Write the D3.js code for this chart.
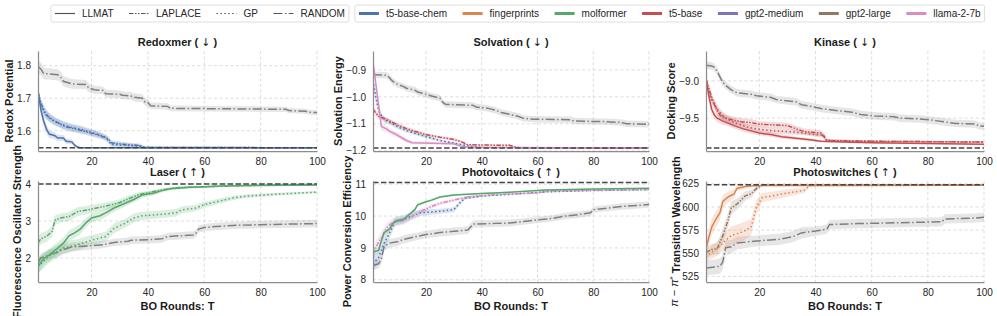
<!DOCTYPE html>
<html>
<head>
<meta charset="utf-8">
<script src="https://cdn.jsdelivr.net/npm/d3@7"></script>
<style>
body { margin: 0; background: #fff; }
svg { font-family: "Liberation Sans", Arial, Helvetica, sans-serif; }
.tick text { font-size: 10px; fill: #262626; }
.title, .xlabel, .ylabel { font-size: 11px; font-weight: bold; fill: #1a1a1a; }
.arrow { font-family: "DejaVu Sans", sans-serif; font-weight: normal; font-size: 11px; }
.leg { font-size: 10px; fill: #262626; }
</style>
</head>
<body>
<script>

// ---- data: [T, mean, half-width of band] ----
var T_TICKS = [20, 40, 60, 80, 100];

var redoxDomain = [1.538, 1.845], redoxTicks = [1.6, 1.7, 1.8], redoxOpt = 1.548;
var redoxRandom = [[1,1.797,.02],[2,1.79,.02],[3,1.776,.018],[8,1.772,.017],[9,1.766,.016],[10,1.752,.016],[13,1.744,.015],[18,1.742,.014],[19,1.732,.013],[21,1.726,.012],[24,1.724,.012],[25,1.714,.012],[30,1.712,.012],[31,1.709,.012],[34,1.707,.012],[35,1.703,.012],[38,1.7,.012],[39,1.688,.011],[40,1.686,.011],[41,1.677,.01],[47,1.675,.01],[48,1.669,.009],[89,1.666,.008],[90,1.662,.008],[96,1.66,.008],[97,1.657,.008],[100,1.656,.008]];
var redoxLLMAT = [[1,1.722,.012],[2,1.665,.015],[3,1.63,.015],[4,1.605,.014],[5,1.59,.012],[7,1.585,.01],[8,1.578,.01],[10,1.578,.009],[11,1.568,.008],[13,1.566,.007],[14,1.556,.006],[15,1.55,.004],[16,1.548,.002],[100,1.548,.001]];
var redoxLaplace = [[1,1.72,.012],[2,1.685,.015],[3,1.665,.015],[4,1.648,.014],[6,1.635,.013],[8,1.625,.012],[10,1.615,.012],[13,1.608,.011],[16,1.602,.011],[19,1.595,.01],[22,1.588,.01],[24,1.582,.009],[26,1.575,.009],[27,1.563,.008],[32,1.558,.007],[37,1.555,.006],[39,1.549,.003],[100,1.548,.001]];
var redoxGP = [[1,1.715,.012],[2,1.68,.015],[3,1.66,.015],[5,1.64,.013],[7,1.628,.012],[10,1.618,.012],[13,1.61,.011],[16,1.605,.011],[19,1.598,.01],[22,1.59,.01],[25,1.58,.009],[27,1.558,.008],[33,1.555,.007],[37,1.553,.005],[39,1.549,.003],[100,1.548,.001]];

var solvDomain = [-1.201, -0.83], solvTicks = [-1.2, -1.1, -1.0, -0.9], solvOpt = -1.19;
var solvRandom = [[1,-0.918,.012],[6,-0.92,.012],[7,-0.93,.012],[8,-0.942,.012],[10,-0.955,.012],[12,-0.962,.012],[13,-0.968,.012],[16,-0.975,.012],[17,-0.982,.012],[20,-0.99,.012],[22,-0.997,.012],[25,-1.005,.012],[26,-1.02,.012],[27,-1.028,.012],[37,-1.032,.012],[38,-1.038,.012],[42,-1.042,.012],[45,-1.05,.012],[47,-1.058,.012],[50,-1.065,.012],[53,-1.072,.012],[55,-1.08,.012],[59,-1.083,.012],[72,-1.085,.012],[73,-1.09,.012],[84,-1.092,.012],[90,-1.095,.012],[92,-1.1,.012],[100,-1.102,.012]];
var solvLLMAT = [[1,-0.87,.015],[2,-0.95,.02],[3,-1.03,.02],[4,-1.11,.015],[6,-1.12,.012],[7,-1.128,.01],[9,-1.138,.01],[11,-1.15,.009],[13,-1.162,.008],[15,-1.17,.006],[30,-1.174,.005],[32,-1.182,.004],[36,-1.188,.003],[100,-1.19,.001]];
var solvGP = [[1,-0.94,.02],[2,-1.0,.02],[3,-1.05,.015],[4,-1.07,.012],[5,-1.085,.01],[8,-1.1,.009],[10,-1.112,.008],[13,-1.125,.007],[16,-1.135,.007],[20,-1.148,.006],[25,-1.162,.005],[30,-1.172,.004],[35,-1.182,.003],[40,-1.188,.002],[100,-1.19,.001]];
var solvLaplace = [[1,-1.045,.01],[2,-1.06,.01],[3,-1.072,.01],[5,-1.08,.009],[7,-1.09,.008],[10,-1.105,.008],[13,-1.118,.007],[16,-1.128,.007],[20,-1.14,.006],[25,-1.15,.005],[30,-1.158,.005],[33,-1.168,.004],[35,-1.178,.003],[50,-1.18,.003],[53,-1.189,.001],[100,-1.19,.001]];

var kinDomain = [-9.94, -8.6], kinTicks = [-9.5, -9.0], kinOpt = -9.9;
var kinRandom = [[1,-8.79,.05],[3,-8.8,.05],[4,-8.82,.05],[5,-8.87,.05],[6,-8.95,.05],[7,-9.02,.05],[8,-9.06,.05],[10,-9.12,.05],[12,-9.16,.05],[17,-9.18,.05],[19,-9.2,.05],[24,-9.22,.05],[26,-9.25,.05],[33,-9.28,.05],[35,-9.32,.05],[38,-9.34,.05],[42,-9.37,.05],[48,-9.4,.05],[53,-9.42,.05],[56,-9.45,.05],[61,-9.47,.05],[68,-9.48,.05],[70,-9.5,.05],[77,-9.51,.05],[80,-9.52,.05],[86,-9.55,.05],[90,-9.57,.05],[97,-9.58,.05],[98,-9.6,.05],[100,-9.61,.05]];
var kinLLMAT = [[1,-8.96,.05],[2,-9.2,.06],[3,-9.38,.06],[4,-9.46,.05],[5,-9.5,.05],[7,-9.54,.05],[9,-9.57,.04],[11,-9.6,.04],[14,-9.64,.04],[17,-9.67,.04],[20,-9.7,.03],[24,-9.72,.03],[28,-9.75,.03],[33,-9.77,.02],[38,-9.79,.02],[42,-9.81,.015],[50,-9.82,.01],[60,-9.83,.01],[80,-9.84,.01],[100,-9.85,.01]];
var kinLaplace = [[1,-8.98,.05],[2,-9.1,.06],[3,-9.22,.06],[4,-9.32,.06],[5,-9.4,.06],[6,-9.46,.05],[8,-9.5,.05],[11,-9.53,.05],[14,-9.55,.05],[17,-9.56,.05],[20,-9.58,.04],[30,-9.6,.04],[33,-9.64,.04],[36,-9.68,.04],[42,-9.7,.04],[44,-9.8,.02],[60,-9.81,.01],[100,-9.82,.01]];
var kinGP = [[1,-9.05,.05],[2,-9.15,.06],[3,-9.25,.06],[5,-9.38,.06],[7,-9.47,.05],[9,-9.52,.05],[12,-9.57,.05],[16,-9.62,.04],[20,-9.65,.04],[25,-9.67,.04],[30,-9.68,.04],[36,-9.7,.03],[40,-9.72,.03],[43,-9.73,.03],[44,-9.8,.02],[60,-9.81,.01],[100,-9.82,.01]];

var laserDomain = [1.35, 4.08], laserTicks = [2, 3, 4], laserOpt = 4.0;
var laserRandom = [[1,1.86,.12],[2,2.0,.12],[4,2.05,.12],[5,2.1,.12],[8,2.15,.12],[9,2.2,.12],[11,2.25,.12],[13,2.3,.12],[20,2.33,.1],[24,2.36,.1],[28,2.42,.1],[33,2.45,.1],[34,2.48,.1],[42,2.5,.1],[45,2.52,.1],[47,2.58,.1],[56,2.62,.1],[57,2.66,.1],[58,2.78,.1],[60,2.82,.1],[64,2.85,.1],[70,2.88,.1],[80,2.9,.1],[100,2.93,.1]];
var laserLLMAT = [[1,1.77,.2],[3,1.98,.18],[5,2.08,.17],[8,2.27,.16],[10,2.4,.16],[12,2.6,.15],[14,2.68,.14],[16,2.78,.14],[18,2.95,.13],[20,3.08,.12],[23,3.14,.12],[25,3.22,.11],[28,3.35,.1],[32,3.48,.09],[35,3.58,.08],[38,3.7,.07],[42,3.75,.06],[45,3.82,.05],[48,3.87,.04],[55,3.91,.03],[70,3.95,.02],[100,3.97,.02]];
var laserLaplace = [[1,2.4,.15],[2,2.52,.15],[4,2.58,.15],[6,2.72,.15],[7,3.02,.13],[9,3.08,.12],[12,3.12,.12],[15,3.25,.12],[20,3.32,.11],[25,3.4,.1],[30,3.5,.09],[33,3.6,.08],[37,3.72,.06],[40,3.76,.05],[45,3.84,.04],[50,3.9,.03],[70,3.95,.02],[100,3.99,.02]];
var laserGP = [[1,1.77,.2],[5,2.05,.18],[10,2.27,.16],[15,2.36,.15],[20,2.48,.14],[25,2.58,.13],[28,2.8,.13],[32,2.94,.12],[35,3.08,.12],[38,3.14,.11],[45,3.18,.1],[50,3.22,.1],[52,3.3,.09],[57,3.35,.09],[60,3.44,.08],[65,3.53,.07],[70,3.62,.06],[75,3.67,.05],[85,3.72,.04],[95,3.76,.03],[100,3.78,.03]];

var pvDomain = [7.93, 11.1], pvTicks = [8, 9, 10, 11], pvOpt = 11.05;
var pvRandom = [[1,8.45,.15],[3,8.5,.15],[4,8.65,.15],[5,9.05,.15],[7,9.15,.14],[10,9.2,.13],[12,9.27,.13],[15,9.33,.12],[20,9.42,.12],[25,9.48,.12],[30,9.52,.12],[35,9.56,.12],[37,9.75,.11],[45,9.77,.11],[50,9.78,.11],[55,9.83,.1],[60,9.88,.1],[65,9.92,.1],[70,10.0,.1],[75,10.05,.1],[79,10.1,.1],[80,10.2,.1],[85,10.25,.1],[90,10.3,.1],[100,10.36,.1]];
var pvLLMAT = [[1,8.87,.1],[3,8.92,.1],[4,9.22,.1],[5,9.48,.1],[7,9.6,.09],[8,9.75,.08],[9,9.84,.07],[12,9.9,.06],[14,10.05,.06],[16,10.2,.05],[17,10.35,.05],[20,10.45,.04],[22,10.5,.04],[25,10.6,.03],[30,10.66,.03],[40,10.71,.02],[50,10.75,.02],[63,10.82,.02],[80,10.85,.01],[100,10.87,.01]];
var pvLaplace = [[1,8.7,.2],[2,9.02,.2],[4,9.32,.18],[6,9.64,.16],[8,9.8,.14],[12,9.85,.12],[15,10.0,.1],[18,10.14,.08],[22,10.3,.07],[25,10.4,.06],[30,10.5,.05],[35,10.6,.04],[45,10.68,.03],[60,10.72,.02],[64,10.79,.02],[100,10.83,.01]];
var pvGP = [[1,8.5,.2],[3,8.7,.2],[5,9.15,.18],[7,9.48,.16],[9,9.84,.14],[12,9.9,.13],[15,10.0,.12],[18,10.1,.1],[25,10.15,.08],[30,10.2,.08],[32,10.4,.06],[34,10.56,.05],[40,10.63,.03],[50,10.68,.02],[63,10.76,.02],[80,10.8,.01],[100,10.83,.01]];

var psDomain = [519, 628], psTicks = [525, 550, 575, 600, 625], psOpt = 624;
var psRandom = [[1,534,8],[6,536,8],[7,541,8],[8,556,8],[10,557,7],[12,561,7],[18,563,6],[22,564,6],[27,565,6],[32,568,6],[35,572,6],[40,574,5],[44,576,5],[45,581,5],[55,582,5],[70,583,5],[85,584,5],[86,587,5],[97,588,5],[100,589,5]];
var psLLMAT = [[1,555,8],[2,567,9],[3,578,9],[4,584,9],[6,594,8],[7,606,7],[9,611,6],[11,614,5],[12,620,3],[15,622,2],[18,623,1],[100,623.5,.3]];
var psLaplace = [[1,551,6],[3,554,6],[5,555,6],[7,569,8],[9,587,8],[10,599,7],[12,603,6],[15,612,5],[17,614,4],[19,620,3],[21,623.5,1],[100,623.5,.3]];
var psGP = [[1,546,6],[3,551,7],[5,555,8],[8,564,9],[10,569,10],[14,573,10],[17,578,9],[19,600,8],[21,610,5],[30,615,4],[36,618,3],[38,623,1],[100,623.5,.3]];

var methodNames = ["LLMAT", "LAPLACE", "GP", "RANDOM"];
var modelNames = ["t5-base-chem", "fingerprints", "molformer", "t5-base", "gpt2-medium", "gpt2-large", "llama-2-7b"];

// ---- styles ----
var colors = {"t5-base-chem": "#4c72b0", "fingerprints": "#dd8452", "molformer": "#55a868", "t5-base": "#c44e52",
              "gpt2-medium": "#8172b3", "gpt2-large": "#937860", "llama-2-7b": "#da8bc3"};
var dashes = {LLMAT: null, LAPLACE: "4.5,1.5,1.5,1.5,1.5,1.5", GP: "1.5,2.4", RANDOM: "9,2.4,1.5,2.4"};
var RANDOM_COLOR = "#7f7f7f";

var panels = [
  {title: "Redoxmer", arrow: "↓", ylabel: "Redox Potential", row: 0, col: 0, dom: redoxDomain, ticks: redoxTicks, fmt: ".1f", opt: redoxOpt, random: redoxRandom,
   series: [[redoxLLMAT, "t5-base-chem", "LLMAT"], [redoxLaplace, "t5-base-chem", "LAPLACE"], [redoxGP, "t5-base-chem", "GP"]]},
  {title: "Solvation", arrow: "↓", ylabel: "Solvation Energy", row: 0, col: 1, dom: solvDomain, ticks: solvTicks, fmt: ".1f", opt: solvOpt, random: solvRandom,
   series: [[solvLLMAT, "llama-2-7b", "LLMAT"], [solvLaplace, "t5-base", "LAPLACE"], [solvGP, "t5-base-chem", "GP"]]},
  {title: "Kinase", arrow: "↓", ylabel: "Docking Score", row: 0, col: 2, dom: kinDomain, ticks: kinTicks, fmt: ".1f", opt: kinOpt, random: kinRandom,
   series: [[kinLLMAT, "t5-base", "LLMAT"], [kinLaplace, "t5-base", "LAPLACE"], [kinGP, "t5-base", "GP"]]},
  {title: "Laser", arrow: "↑", ylabel: "Fluorescence Oscillator Strength", row: 1, col: 0, dom: laserDomain, ticks: laserTicks, fmt: "d", opt: laserOpt, random: laserRandom,
   series: [[laserLLMAT, "molformer", "LLMAT"], [laserLaplace, "molformer", "LAPLACE"], [laserGP, "molformer", "GP"]]},
  {title: "Photovoltaics", arrow: "↑", ylabel: "Power Conversion Efficiency", row: 1, col: 1, dom: pvDomain, ticks: pvTicks, fmt: "d", opt: pvOpt, random: pvRandom,
   series: [[pvLLMAT, "molformer", "LLMAT"], [pvLaplace, "llama-2-7b", "LAPLACE"], [pvGP, "t5-base-chem", "GP"]]},
  {title: "Photoswitches", arrow: "↑", ylabel: null, row: 1, col: 2, dom: psDomain, ticks: psTicks, fmt: "d", opt: psOpt, random: psRandom,
   series: [[psLLMAT, "fingerprints", "LLMAT"], [psLaplace, "gpt2-large", "LAPLACE"], [psGP, "fingerprints", "GP"]]}
];

var colX = [[38, 317], [373, 649], [706, 984]];
var rowY = [[51, 151], [181, 282]];

var svg = d3.select("body").append("svg")
    .attr("width", 997)
    .attr("height", 316);

panels.forEach(function(p, i) {
  var x0 = colX[p.col][0], x1 = colX[p.col][1];
  var y0 = rowY[p.row][0], y1 = rowY[p.row][1];
  var x = d3.scaleLinear().domain([1, 100]).range([x0, x1]);
  var y = d3.scaleLinear().domain(p.dom).range([y1, y0]);
  var g = svg.append("g");

  svg.append("clipPath").attr("id", "clip" + i)
    .append("rect").attr("x", x0).attr("y", y0).attr("width", x1 - x0).attr("height", y1 - y0);

  // grid
  g.selectAll(".vg").data(T_TICKS).enter().append("line")
    .attr("x1", d => x(d)).attr("x2", d => x(d)).attr("y1", y0).attr("y2", y1)
    .attr("stroke", "#d4d4d4").attr("stroke-width", 0.8).attr("stroke-dasharray", "3,2.5");
  g.selectAll(".hg").data(p.ticks).enter().append("line")
    .attr("x1", x0).attr("x2", x1).attr("y1", d => y(d)).attr("y2", d => y(d))
    .attr("stroke", "#d4d4d4").attr("stroke-width", 0.8).attr("stroke-dasharray", "3,2.5");

  var plot = g.append("g").attr("clip-path", "url(#clip" + i + ")");
  var area = d3.area().x(d => x(d[0])).y0(d => y(d[1] - d[2])).y1(d => y(d[1] + d[2]));
  var line = d3.line().x(d => x(d[0])).y(d => y(d[1]));

  // random baseline
  plot.append("path").attr("d", area(p.random)).attr("fill", "#9a9a9a").attr("fill-opacity", 0.25);
  plot.append("path").attr("d", line(p.random)).attr("fill", "none")
    .attr("stroke", RANDOM_COLOR).attr("stroke-width", 1.5).attr("stroke-dasharray", dashes.RANDOM);

  p.series.forEach(function(s) {
    plot.append("path").attr("d", area(s[0])).attr("fill", colors[s[1]]).attr("fill-opacity", 0.2);
  });
  p.series.slice().reverse().forEach(function(s) {
    plot.append("path").attr("d", line(s[0])).attr("fill", "none")
      .attr("stroke", colors[s[1]]).attr("stroke-width", 1.5)
      .attr("stroke-dasharray", dashes[s[2]]);
  });

  // optimum
  g.append("line").attr("x1", x0).attr("x2", x1).attr("y1", y(p.opt)).attr("y2", y(p.opt))
    .attr("stroke", "#444").attr("stroke-width", 1.5).attr("stroke-dasharray", "5.5,2.4");

  // axes
  var ya = g.append("g").attr("transform", "translate(" + x0 + ",0)")
    .call(d3.axisLeft(y).tickValues(p.ticks).tickSize(0).tickPadding(7).tickFormat(d3.format(p.fmt)));
  var xa = g.append("g").attr("transform", "translate(0," + y1 + ")")
    .call(d3.axisBottom(x).tickValues(T_TICKS).tickSize(0).tickPadding(7));
  g.selectAll(".domain").attr("stroke", "#8c8c8c").attr("stroke-width", 1.25);

  var tt = g.append("text").attr("class", "title")
    .attr("x", (x0 + x1) / 2).attr("y", y0 - 5).attr("text-anchor", "middle");
  tt.append("tspan").text(p.title + " ( ");
  tt.append("tspan").attr("class", "arrow").text(p.arrow);
  tt.append("tspan").text(" )");

  if (p.row == 1) {
    g.append("text").attr("class", "xlabel")
      .attr("x", (x0 + x1) / 2).attr("y", y1 + 28).attr("text-anchor", "middle").text("BO Rounds: T");
  }

  // y label placed left of the tick labels
  var bb = ya.node().getBBox();
  var lx = x0 + bb.x - 8;
  var lab = g.append("text").attr("class", "ylabel")
    .attr("transform", "translate(" + lx + "," + ((y0 + y1) / 2) + ") rotate(-90)")
    .attr("text-anchor", "middle").attr("dy", "0.35em");
  if (p.ylabel) {
    lab.text(p.ylabel);
  } else {
    lab.append("tspan").style("font-style", "italic").style("font-weight", "normal").text("π");
    lab.append("tspan").style("font-weight", "normal").text(" − ");
    lab.append("tspan").style("font-style", "italic").style("font-weight", "normal").text("π");
    lab.append("tspan").style("font-weight", "normal").attr("dy", "-0.45em").style("font-size", "8px").text("*");
    lab.append("tspan").attr("dy", "0.45em").text(" Transition Wavelength");
  }
});

// ---- legends ----
function legendBox(items, x0, drawSample) {
  var lg = svg.append("g");
  var box = lg.append("rect").attr("x", x0).attr("y", 5).attr("height", 17).attr("rx", 2)
    .attr("fill", "#fff").attr("stroke", "#d6d6d6").attr("stroke-width", 0.8);
  var cx = x0 + 4;
  items.forEach(function(name, i) {
    drawSample(lg, name, cx, 13.5);
    var t = lg.append("text").attr("class", "leg").attr("x", cx + 27).attr("y", 13.5)
      .attr("dy", "0.35em").text(name);
    cx += 27 + t.node().getComputedTextLength() + 15.5;
  });
  box.attr("width", cx - 15.5 + 4 - x0);
  return cx - 15.5 + 4;
}

var end1 = legendBox(methodNames, 51, function(lg, name, cx, cy) {
  lg.append("line").attr("x1", cx).attr("x2", cx + 20).attr("y1", cy).attr("y2", cy)
    .attr("stroke", "#555").attr("stroke-width", 1.2).attr("stroke-dasharray", dashes[name]);
});
legendBox(modelNames, end1 + 6, function(lg, name, cx, cy) {
  lg.append("line").attr("x1", cx).attr("x2", cx + 20).attr("y1", cy).attr("y2", cy)
    .attr("stroke", colors[name]).attr("stroke-width", 3);
});

</script>
</body>
</html>
